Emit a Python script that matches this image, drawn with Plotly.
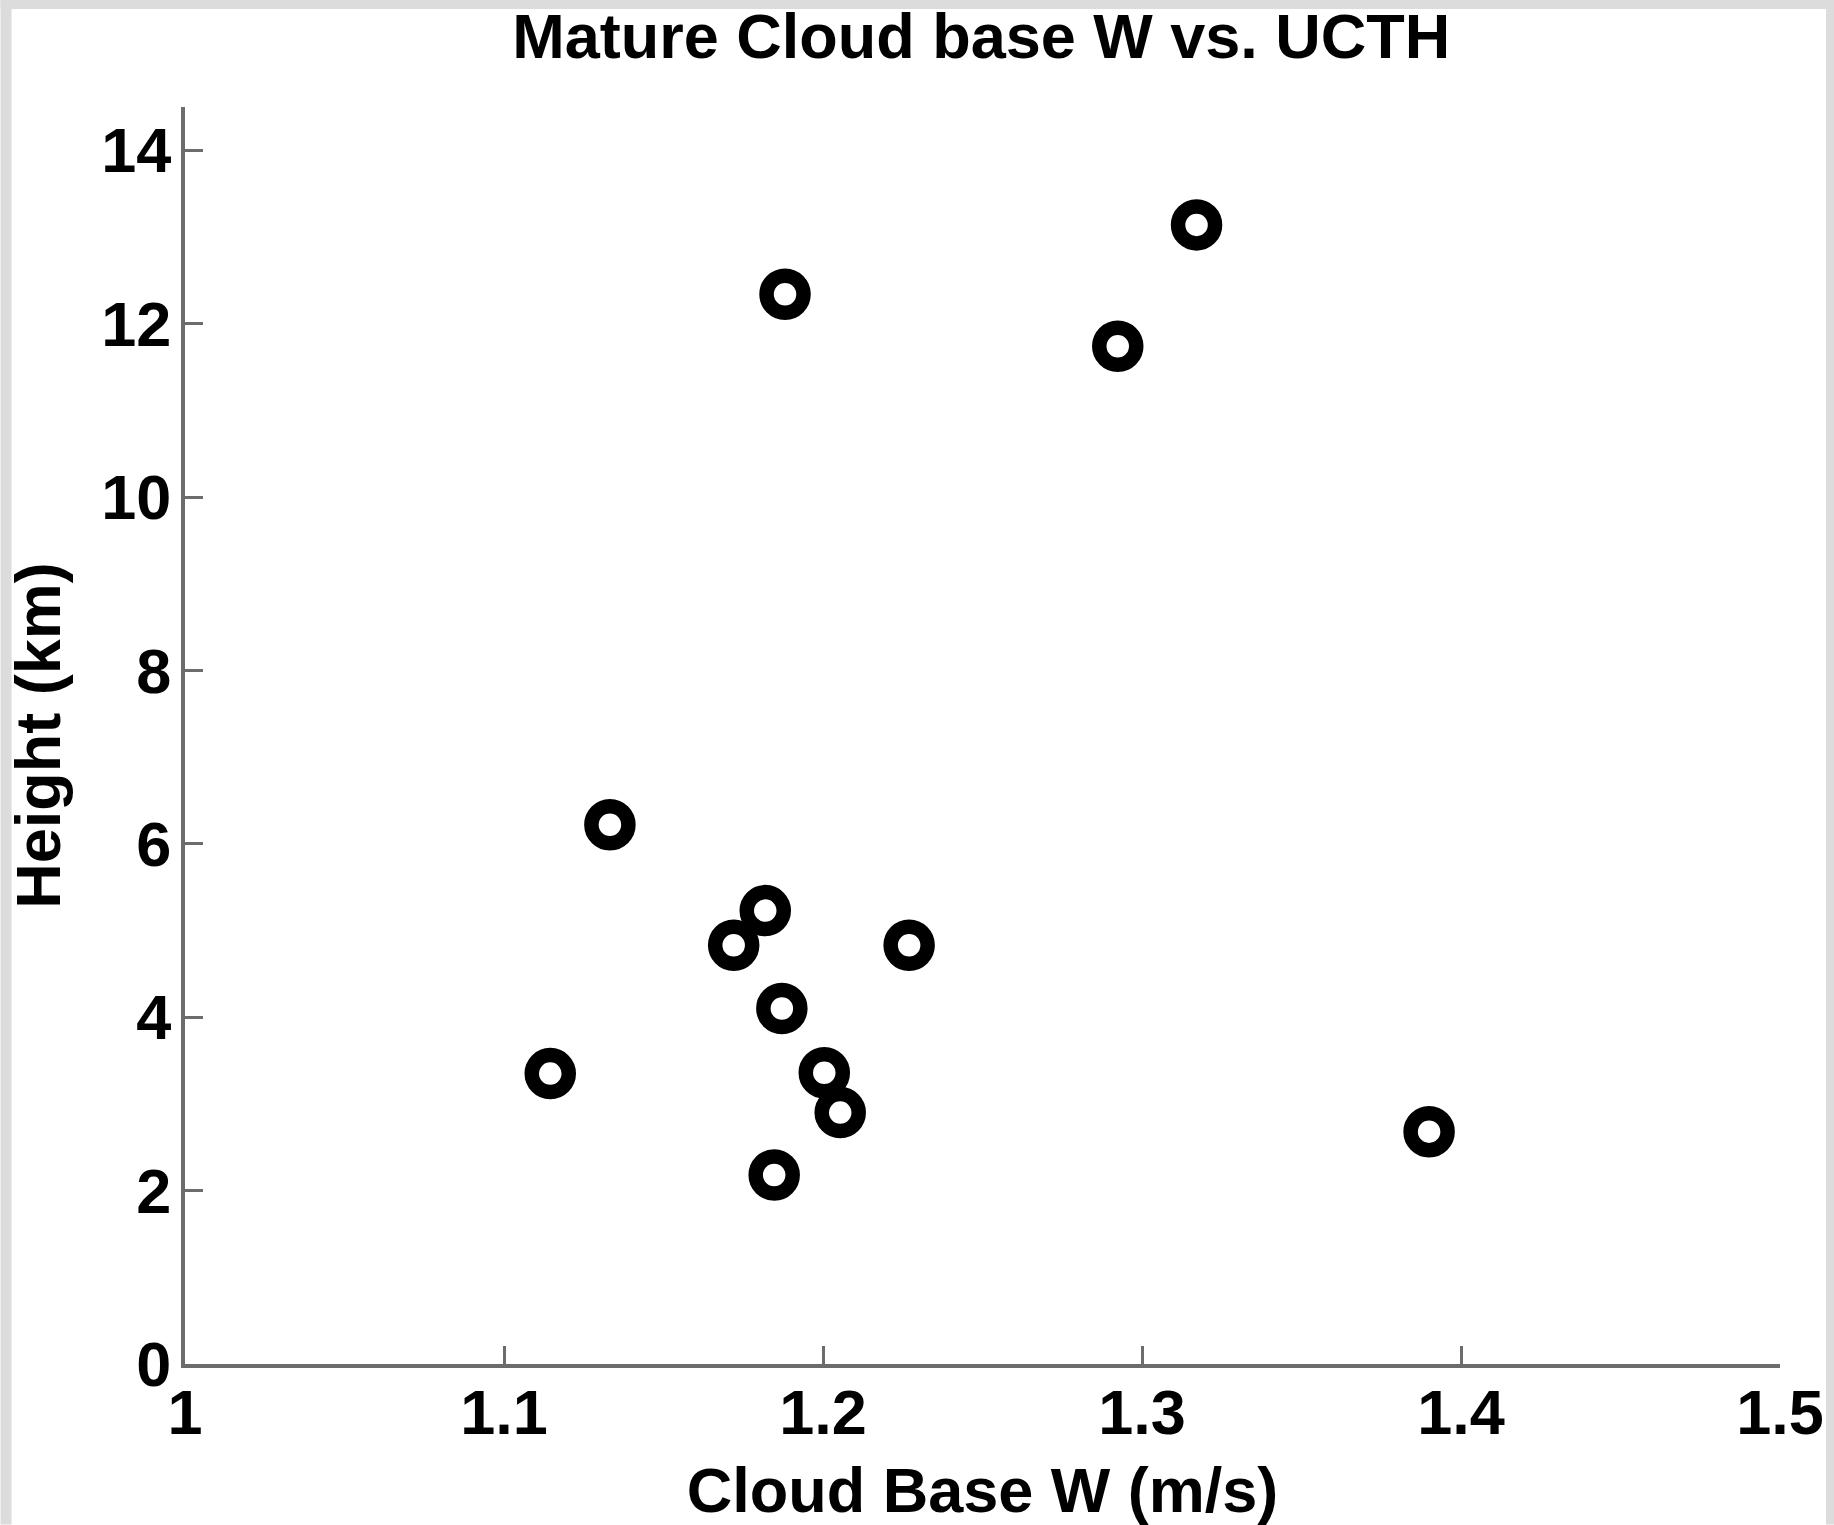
import plotly.graph_objects as go

# Data
cloud_base_w = [1.1332, 1.1145, 1.1720, 1.1819, 1.1871, 1.2004, 1.2054, 1.1847,
                1.2270, 1.1881, 1.2924, 1.3171, 1.3900]
height_km = [6.22, 3.35, 4.83, 5.23, 4.10, 3.36, 2.90, 2.18,
             4.83, 12.34, 11.74, 13.14, 2.68]

x_ticks = [1, 1.1, 1.2, 1.3, 1.4, 1.5]
x_tick_labels = ["1", "1.1", "1.2", "1.3", "1.4", "1.5"]
y_ticks = [0, 2, 4, 6, 8, 10, 12, 14]
y_tick_labels = ["0", "2", "4", "6", "8", "10", "12", "14"]

W, H = 1834, 1525
L, R, T, B = 184.5, 54, 107, 160.5
PW, PH = W - L - R, H - T - B

def px2x(px):
    return (px - L) / PW

def py2y(py):
    return (H - B - py) / PH

FONT = "Liberation Sans, Arial, sans-serif"
AX = "#6c6c6c"

fig = go.Figure()
fig.add_trace(go.Scatter(
    x=cloud_base_w, y=height_km, mode="markers",
    marker=dict(symbol="circle-open", size=37, color="black",
                line=dict(width=14.5, color="black")),
    showlegend=False,
))

gray = "#dcdcdc"
shapes = [
    dict(type="rect", xref="paper", yref="paper", x0=px2x(0), x1=px2x(11),
         y0=py2y(H), y1=py2y(0), fillcolor=gray, line=dict(width=0), layer="below"),
    dict(type="rect", xref="paper", yref="paper", x0=px2x(0), x1=px2x(W),
         y0=py2y(9), y1=py2y(0), fillcolor=gray, line=dict(width=0), layer="below"),
    dict(type="rect", xref="paper", yref="paper", x0=px2x(1826), x1=px2x(W),
         y0=py2y(H), y1=py2y(0), fillcolor=gray, line=dict(width=0), layer="below"),
]

fig.update_layout(
    width=W, height=H,
    margin=dict(l=L, r=R, t=T, b=B, pad=0, autoexpand=False),
    paper_bgcolor="white", plot_bgcolor="white",
    font=dict(family=FONT, color="black", size=63),
    title=dict(text="<b>Mature Cloud base W vs. UCTH</b>",
               x=px2x(981), xref="paper", xanchor="center",
               y=1 - 36 / H, yref="container", yanchor="middle",
               font=dict(size=63, family=FONT, color="black")),
    shapes=shapes,
    xaxis=dict(range=[1, 1.5], tickvals=x_ticks, automargin=False,
               ticktext=["<b>%s</b>" % t for t in x_tick_labels],
               showgrid=False, zeroline=False, showline=True, linecolor=AX,
               linewidth=4, mirror=False, ticks="inside", ticklen=18,
               tickwidth=3, tickcolor=AX, ticklabelstandoff=-10,
               tickfont=dict(size=63, family=FONT, color="black"),
               title=dict(text="<b>Cloud Base W (m/s)</b>", standoff=27,
                          font=dict(size=63, family=FONT, color="black"))),
    yaxis=dict(range=[0, 14.5], tickvals=y_ticks, automargin=False,
               ticktext=["<b>%s</b>" % t for t in y_tick_labels],
               showgrid=False, zeroline=False, showline=True, linecolor=AX,
               linewidth=4, mirror=False, ticks="inside", ticklen=18,
               tickwidth=3, tickcolor=AX, ticklabelstandoff=-3,
               tickfont=dict(size=63, family=FONT, color="black"),
               title=dict(text="<b>Height (km)</b>", standoff=21,
                          font=dict(size=63, family=FONT, color="black"))),
)

fig.write_html("out.html")
